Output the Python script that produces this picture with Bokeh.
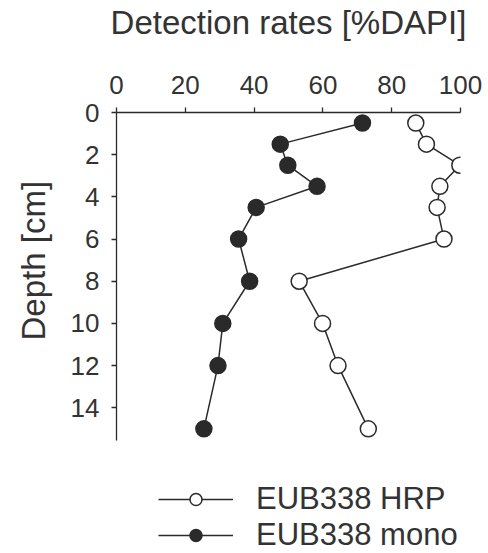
from bokeh.plotting import figure
from bokeh.models import Range1d, Legend, LegendItem, FixedTicker, Title
from bokeh.embed import file_html
from bokeh.resources import INLINE

depth = [0.5, 1.5, 2.5, 3.5, 4.5, 6, 8, 10, 12, 15]
hrp = [87.0, 90.1, 99.8, 94.0, 93.2, 95.2, 53.1, 59.9, 64.4, 73.2]
mono = [71.5, 47.6, 49.8, 58.3, 40.6, 35.5, 38.7, 30.9, 29.5, 25.4]
x_ticks = [0, 20, 40, 60, 80, 100]
y_ticks = [0, 2, 4, 6, 8, 10, 12, 14]

FONT = "Liberation Sans"
TXT = "#333333"
INK = "#2a2a2a"

p = figure(width=488, height=553, output_backend="svg", toolbar_location=None,
           x_range=Range1d(0, 100), y_range=Range1d(20.91, 0),
           x_axis_location="above", min_border_left=115, min_border_right=28,
           min_border_top=112, min_border_bottom=0)
p.outline_line_color = None
p.xgrid.visible = False
p.ygrid.visible = False
p.background_fill_color = "white"
p.border_fill_color = "white"

for ax in (p.xaxis[0], p.yaxis[0]):
    ax.axis_line_color = INK
    ax.axis_line_width = 1.3
    ax.major_tick_line_color = INK
    ax.major_tick_line_width = 1.3
    ax.major_tick_out = 5
    ax.major_tick_in = 0
    ax.minor_tick_line_color = None
    ax.major_label_text_font = FONT
    ax.major_label_text_font_size = "26px"
    ax.major_label_text_color = TXT
    ax.axis_label_text_font = FONT
    ax.axis_label_text_font_size = "33px"
    ax.axis_label_text_font_style = "normal"
    ax.axis_label_text_color = TXT

p.xaxis.ticker = FixedTicker(ticks=x_ticks)
p.yaxis.ticker = FixedTicker(ticks=y_ticks)
p.yaxis.bounds = (0, 15.55)
p.xaxis.axis_label = "Detection rates [%DAPI]"
p.xaxis.major_label_standoff = 14
p.yaxis.major_label_standoff = 12
p.xaxis.axis_label_standoff = 32

ytitle = Title(text="Depth [cm]", align="left", offset=213, standoff=28,
               vertical_align="top",
               text_font=FONT, text_font_size="33px", text_font_style="normal",
               text_color=TXT)
p.add_layout(ytitle, "left")

l1 = p.line(hrp, depth, line_color=INK, line_width=1.5)
s1 = p.scatter(hrp, depth, size=16, marker="circle", fill_color="white", line_color=INK, line_width=1.5)
l2 = p.line(mono, depth, line_color=INK, line_width=1.5)
s2 = p.scatter(mono, depth, size=16, marker="circle", fill_color=INK, line_color=INK, line_width=1.5)

legend = Legend(items=[LegendItem(label="EUB338 HRP", renderers=[l1, s1]),
                       LegendItem(label="EUB338 mono", renderers=[l2, s2])],
                location=(42, 0), orientation="vertical",
                label_text_font=FONT, label_text_font_size="31px", label_text_color=TXT,
                glyph_width=75, glyph_height=30, label_height=30, label_standoff=23,
                spacing=0, padding=0, margin=0, border_line_color=None,
                background_fill_alpha=0)
p.add_layout(legend, "center")

open("out.html", "w").write(file_html(p, INLINE))
